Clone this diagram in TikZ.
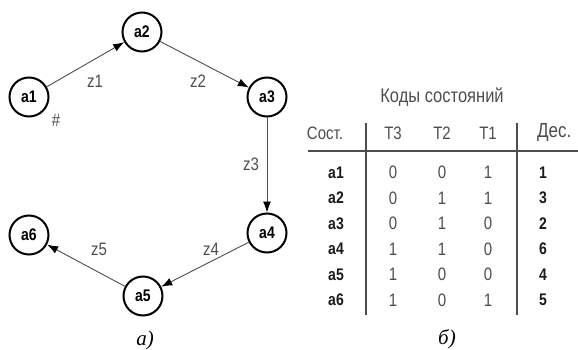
\documentclass[tikz,border=0pt]{standalone}
\usepackage{fontspec}
\setmainfont{Liberation Serif}
\newfontfamily\arial{Liberation Sans}
\usetikzlibrary{arrows.meta}
\definecolor{ink}{HTML}{1A1A1A}
\definecolor{soft}{HTML}{4D4D4D}
% sans labels are set slightly taller than wide
\newcommand\tall[1]{\scalebox{1}[1.2]{#1}}
\begin{document}
\begin{tikzpicture}[x=1pt,y=-1pt,
  stnode/.style={circle,draw=black,line width=2pt,minimum size=39pt,inner sep=0pt,
    font=\arial\fontsize{14}{14}\selectfont\bfseries},
  link/.style={draw=soft,line width=0.9pt,-{Latex[length=11pt,width=8pt,color=black]}},
  lbl/.style={font=\arial\fontsize{15}{15}\selectfont,text=soft,inner sep=0pt},
  cell/.style={font=\arial\fontsize{15}{15}\selectfont,text=soft,inner sep=0pt},
  rowname/.style={font=\arial\fontsize{14}{14}\selectfont\bfseries,text=ink,inner sep=0pt,anchor=east},
  decval/.style={font=\arial\fontsize{14}{14}\selectfont\bfseries,text=ink,inner sep=0pt,anchor=west},
  tabrule/.style={draw=soft,line width=1.2pt},
  captext/.style={font=\fontsize{21}{21}\selectfont\itshape,inner sep=0pt}]
\useasboundingbox (0,0) rectangle (578,350);

% state graph
\node[stnode] (a1) at (29,97) {\tall{a1}};
\node[stnode] (a2) at (142,32) {\tall{a2}};
\node[stnode] (a3) at (267,97) {\tall{a3}};
\node[stnode] (a4) at (267,233) {\tall{a4}};
\node[stnode] (a5) at (143,296) {\tall{a5}};
\node[stnode] (a6) at (29,235) {\tall{a6}};

\draw[link] (a1) -- (a2);
\draw[link] (a2) -- (a3);
\draw[link] (a3) -- (a4);
\draw[link] (a4) -- (a5);
\draw[link] (a5) -- (a6);

\node[lbl] (z1) at (95,81) {\tall{z1}};
\node[lbl] (z2) at (198,81) {\tall{z2}};
\node[lbl] (z3) at (251,164) {\tall{z3}};
\node[lbl] (z4) at (211,249) {\tall{z4}};
\node[lbl] (z5) at (99,249) {\tall{z5}};
\node[lbl] (hash) at (56,120) {\tall{\#}};

\node[captext] (capa) at (145,340) {a)};

% state code table
\node[cell,font=\arial\fontsize{16.5}{16.5}\selectfont] (title) at (442,97) {\tall{Коды состояний}};
\node[cell] (hs) at (325,133) {\tall{Сост.}};
\node[cell] (h3) at (393,133) {\tall{T3}};
\node[cell] (h2) at (442,133) {\tall{T2}};
\node[cell] (h1) at (488,133) {\tall{T1}};
\node[cell,anchor=west,font=\arial\fontsize{17}{17}\selectfont] (hd) at (537,133) {\tall{Дес.}};

\coordinate (hl) at (308,151);
\coordinate (hr) at (578,151);
\draw[tabrule] (hl) -- (hr);
\coordinate (v1t) at (366,123);
\coordinate (v1b) at (366,315);
\coordinate (v2t) at (517,123);
\coordinate (v2b) at (517,315);
\draw[tabrule] (v1t) -- (v1b);
\draw[tabrule] (v2t) -- (v2b);

\foreach \s/\p/\q/\r/\d [count=\i] in {a1/0/0/1/1, a2/0/1/1/3, a3/0/1/0/2, a4/1/1/0/6, a5/1/0/0/4, a6/1/0/1/5}{
  \pgfmathsetmacro{\yy}{147+25.5*\i}
  \node[rowname] (r\i) at (344,\yy) {\tall{\s}};
  \node[cell] (t3\i) at (393,\yy) {\tall{\p}};
  \node[cell] (t2\i) at (442,\yy) {\tall{\q}};
  \node[cell] (t1\i) at (488,\yy) {\tall{\r}};
  \node[decval] (d\i) at (539,\yy) {\tall{\d}};
}

\node[captext] (capb) at (447,339) {б)};
\end{tikzpicture}
\end{document}
